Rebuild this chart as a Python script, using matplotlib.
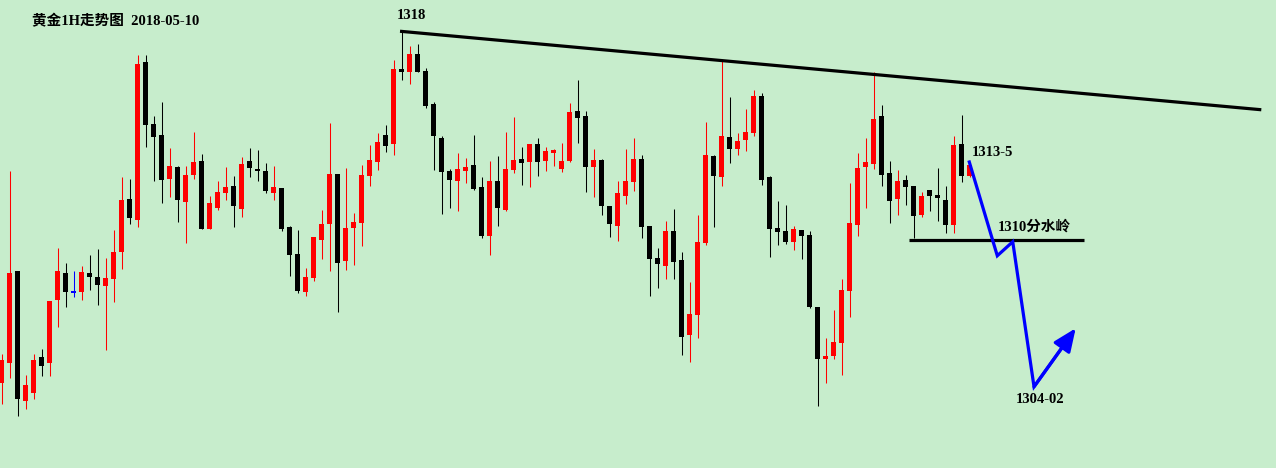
import matplotlib
matplotlib.use('Agg')

import numpy as np
from matplotlib import pyplot as plt

# hourly gold candles
opens = [1304.68, 1305.48, 1309.16, 1303.96, 1304.28, 1305.72, 1305.48, 1308.00, 1309.08, 1308.28,
         1308.32, 1309.08, 1308.92, 1308.56, 1308.84, 1309.92, 1312.04, 1311.20, 1317.52, 1315.04,
         1314.60, 1312.84, 1313.32, 1311.92, 1313.00, 1313.56, 1310.84, 1311.68, 1312.28, 1312.56,
         1311.64, 1313.56, 1313.24, 1313.16, 1312.28, 1312.48, 1310.92, 1309.84, 1308.32, 1308.88,
         1310.40, 1311.04, 1313.04, 1309.56, 1310.88, 1311.08, 1312.96, 1313.52, 1314.60, 1314.24,
         1317.24, 1317.12, 1317.84, 1317.16, 1315.84, 1314.48, 1313.16, 1312.76, 1313.16, 1313.40,
         1312.52, 1310.56, 1312.76, 1311.60, 1313.20, 1313.64, 1313.52, 1314.24, 1313.56, 1313.88,
         1313.24, 1313.56, 1315.56, 1315.36, 1313.32, 1313.60, 1311.76, 1310.96, 1312.16, 1312.72,
         1313.64, 1310.96, 1309.68, 1309.36, 1310.76, 1309.60, 1306.60, 1307.40, 1310.28, 1313.76,
         1312.92, 1314.52, 1314.04, 1314.40, 1314.68, 1316.16, 1312.92, 1310.88, 1310.76, 1310.32,
         1310.80, 1310.60, 1307.72, 1305.64, 1305.76, 1306.28, 1308.36, 1311.00, 1313.32, 1313.44,
         1315.36, 1313.08, 1312.04, 1312.80, 1312.56, 1311.40, 1312.40, 1312.20, 1312.00, 1311.00,
         1314.24, 1312.96]
highs = [1305.84, 1313.16, 1309.16, 1305.00, 1305.84, 1306.04, 1307.96, 1310.08, 1309.48, 1309.16,
         1309.36, 1309.80, 1310.04, 1309.68, 1310.80, 1312.92, 1312.84, 1317.80, 1317.80, 1315.36,
         1315.92, 1314.08, 1313.36, 1313.36, 1314.72, 1313.84, 1312.16, 1312.76, 1313.32, 1312.96,
         1313.72, 1314.08, 1314.00, 1313.48, 1313.36, 1312.48, 1310.96, 1310.80, 1309.28, 1310.52,
         1311.60, 1315.08, 1313.04, 1313.28, 1311.48, 1313.40, 1314.20, 1314.68, 1315.00, 1317.60,
         1318.76, 1318.16, 1318.24, 1317.28, 1315.92, 1314.56, 1313.24, 1313.88, 1313.68, 1314.60,
         1312.92, 1313.56, 1313.76, 1314.72, 1315.32, 1314.12, 1314.24, 1314.48, 1314.12, 1314.04,
         1314.28, 1315.88, 1316.80, 1315.56, 1314.04, 1313.64, 1311.76, 1312.76, 1314.04, 1314.48,
         1313.80, 1310.96, 1310.08, 1311.16, 1311.64, 1309.92, 1308.72, 1311.40, 1315.12, 1313.80,
         1317.56, 1316.12, 1314.68, 1315.64, 1316.40, 1316.28, 1312.96, 1311.96, 1311.80, 1310.96,
         1310.80, 1310.76, 1307.72, 1306.48, 1307.60, 1308.84, 1312.68, 1313.88, 1314.48, 1317.12,
         1315.80, 1313.56, 1313.20, 1313.00, 1312.56, 1312.32, 1312.40, 1313.28, 1312.56, 1314.56,
         1315.40, 1313.40]
lows = [1303.84, 1304.88, 1303.36, 1303.64, 1304.04, 1304.96, 1304.96, 1306.92, 1307.72, 1308.12,
        1308.00, 1308.40, 1307.80, 1306.00, 1307.92, 1309.24, 1311.04, 1310.92, 1314.12, 1312.76,
        1311.88, 1312.12, 1311.12, 1310.28, 1312.84, 1310.84, 1310.84, 1311.60, 1312.00, 1310.92,
        1311.32, 1312.92, 1312.76, 1312.28, 1312.00, 1310.76, 1308.96, 1308.28, 1308.16, 1308.76,
        1309.64, 1309.16, 1307.52, 1309.20, 1309.40, 1310.16, 1312.56, 1313.20, 1313.92, 1313.80,
        1316.80, 1316.64, 1317.12, 1315.68, 1313.20, 1311.44, 1311.68, 1311.56, 1312.68, 1312.40,
        1310.48, 1309.80, 1310.96, 1311.56, 1313.08, 1312.60, 1312.52, 1312.96, 1313.16, 1313.36,
        1313.12, 1313.52, 1314.28, 1312.32, 1312.12, 1311.40, 1310.52, 1310.36, 1311.84, 1312.36,
        1310.48, 1308.16, 1308.48, 1308.84, 1308.84, 1305.80, 1305.52, 1306.48, 1310.20, 1310.92,
        1312.56, 1313.48, 1313.80, 1313.96, 1314.56, 1312.60, 1309.72, 1310.20, 1310.24, 1310.00,
        1309.64, 1307.68, 1303.76, 1304.68, 1305.64, 1305.00, 1307.32, 1310.56, 1311.68, 1313.24,
        1312.56, 1311.08, 1311.40, 1311.80, 1310.48, 1311.32, 1311.56, 1311.16, 1310.68, 1310.68,
        1312.72, 1312.92]
closes = [1305.60, 1309.08, 1304.04, 1304.60, 1305.60, 1305.36, 1307.96, 1309.16, 1308.32, 1308.28,
          1309.12, 1308.92, 1308.60, 1308.88, 1309.92, 1312.00, 1311.28, 1317.44, 1315.00, 1314.52,
          1312.80, 1313.36, 1312.00, 1313.00, 1313.52, 1310.84, 1311.88, 1312.32, 1312.52, 1311.76,
          1313.44, 1313.28, 1313.16, 1312.36, 1312.52, 1310.84, 1309.80, 1308.36, 1308.92, 1310.52,
          1311.04, 1313.04, 1309.48, 1310.88, 1311.12, 1313.00, 1313.60, 1314.32, 1314.16, 1317.24,
          1317.12, 1317.84, 1317.12, 1315.76, 1314.56, 1313.12, 1312.80, 1313.24, 1313.32, 1312.44,
          1310.56, 1312.76, 1311.68, 1313.24, 1313.60, 1313.48, 1314.24, 1313.52, 1313.96, 1314.00,
          1313.56, 1315.52, 1315.28, 1313.32, 1313.60, 1311.76, 1311.04, 1312.28, 1312.76, 1313.64,
          1310.92, 1309.64, 1309.44, 1310.76, 1309.52, 1306.52, 1307.44, 1310.32, 1313.80, 1312.96,
          1314.56, 1314.04, 1314.36, 1314.72, 1316.16, 1312.80, 1310.84, 1310.72, 1310.32, 1310.84,
          1310.56, 1307.72, 1305.64, 1305.76, 1306.32, 1308.40, 1311.08, 1313.28, 1313.52, 1315.24,
          1313.00, 1311.96, 1312.76, 1312.52, 1311.36, 1312.16, 1312.16, 1312.08, 1311.00, 1314.20,
          1312.96, 1313.40]

# analyst drawings (candle index, price)
trend_x = [49.79, 157.45]
trend_y = [1318.75, 1315.61]
level_x = [113.41, 135.29]
level_price = 1310.4
path_x = [120.95, 124.45, 126.38, 129.04]
path_y = [1313.52, 1309.77, 1310.33, 1304.53]
arrow_end = (134.25, 1306.87)

title = '黄金1H走势图  2018-05-10'
labels = [('1318', 51.16, 1319.39, 'center'),
          ('1313-5', 121.25, 1313.89, 'left'),
          ('1310分水岭', 124.5, 1310.91, 'left'),
          ('1304-02', 126.75, 1304.03, 'left')]

BG = '#C7EDCC'
fonts = ['Liberation Serif', 'Noto Sans CJK SC', 'DejaVu Sans']

fig = plt.figure(figsize=(12.76, 4.68), dpi=100, facecolor=BG)
ax = fig.add_axes([0, 0, 1, 1])
ax.set_facecolor(BG)

xs = np.arange(len(opens))
o = np.array(opens)
c = np.array(closes)
colors = np.where(c > o, '#FF0000', np.where(c < o, '#000000', '#0000FF'))

ax.vlines(xs, lows, highs, colors=colors, linewidth=0.75)
bottoms = np.minimum(o, c)
heights = np.maximum(np.abs(c - o), 0.08)
ax.bar(xs, heights, bottom=bottoms, width=0.62, color=colors, linewidth=0)

ax.plot(trend_x, trend_y, color='black', linewidth=2.3, solid_capstyle='butt')
ax.plot(level_x, [level_price, level_price], color='black', linewidth=2.3, solid_capstyle='butt')
ax.plot(path_x + [arrow_end[0] - 1.0], path_y + [path_y[-1] + (arrow_end[1] - path_y[-1]) * 0.8],
        color='#0000FF', linewidth=2.3, solid_joinstyle='miter')
ax.annotate('', xy=arrow_end, xytext=(path_x[-1], path_y[-1]),
            arrowprops=dict(arrowstyle='-|>,head_length=0.7,head_width=0.3', color='#0000FF',
                            lw=2.3, mutation_scale=20, shrinkA=0, shrinkB=0))

for txt, x, y, ha in labels:
    ax.text(x, y, txt, ha=ha, va='center', fontsize=10.5, fontweight='bold', family=fonts)
ax.text(0.025, 0.9545, title, transform=ax.transAxes, ha='left', va='center',
        fontsize=10.5, fontweight='bold', family=fonts)

ax.set_xlim(-0.2125, 159.2875)
ax.set_ylim(1301.28, 1320)
ax.axis('off')

plt.savefig('out.png', dpi=100, facecolor=BG)
